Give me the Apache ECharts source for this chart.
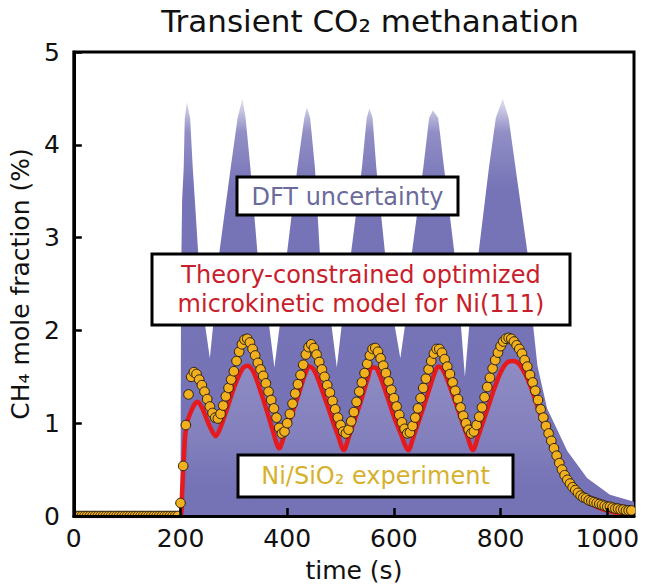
<!DOCTYPE html>
<html>
<head>
<meta charset="utf-8">
<script src="https://cdn.jsdelivr.net/npm/echarts@6/dist/echarts.min.js"></script>
<style>
  html, body { margin: 0; padding: 0; background: #fff; }
  #chart { width: 645px; height: 588px; }
</style>
</head>
<body>
<div id="chart"></div>
<script>
// Ni/SiO2 experiment, sampled every 5 s
const expTime = [
  0, 5, 10, 15, 20, 25, 30, 35, 40, 45,
  50, 55, 60, 65, 70, 75, 80, 85, 90, 95,
  100, 105, 110, 115, 120, 125, 130, 135, 140, 145,
  150, 155, 160, 165, 170, 175, 180, 185, 190, 195,
  200, 205, 210, 215, 220, 225, 230, 235, 240, 245,
  250, 255, 260, 265, 270, 275, 280, 285, 290, 295,
  300, 305, 310, 315, 320, 325, 330, 335, 340, 345,
  350, 355, 360, 365, 370, 375, 380, 385, 390, 395,
  400, 405, 410, 415, 420, 425, 430, 435, 440, 445,
  450, 455, 460, 465, 470, 475, 480, 485, 490, 495,
  500, 505, 510, 515, 520, 525, 530, 535, 540, 545,
  550, 555, 560, 565, 570, 575, 580, 585, 590, 595,
  600, 605, 610, 615, 620, 625, 630, 635, 640, 645,
  650, 655, 660, 665, 670, 675, 680, 685, 690, 695,
  700, 705, 710, 715, 720, 725, 730, 735, 740, 745,
  750, 755, 760, 765, 770, 775, 780, 785, 790, 795,
  800, 805, 810, 815, 820, 825, 830, 835, 840, 845,
  850, 855, 860, 865, 870, 875, 880, 885, 890, 895,
  900, 905, 910, 915, 920, 925, 930, 935, 940, 945,
  950, 955, 960, 965, 970, 975, 980, 985, 990, 995,
  1000, 1005, 1010, 1015, 1020, 1025, 1030, 1035, 1040, 1045
];
const expFrac = [
  0, 0, 0, 0, 0, 0, 0, 0, 0, 0,
  0, 0, 0, 0, 0, 0, 0, 0, 0, 0,
  0, 0, 0, 0, 0, 0, 0, 0, 0, 0,
  0, 0, 0, 0, 0, 0, 0, 0, 0, 0,
  0.14, 0.54, 0.98, 1.31, 1.50, 1.55, 1.53, 1.47, 1.41, 1.34,
  1.26, 1.18, 1.11, 1.06, 1.05, 1.10, 1.19, 1.29, 1.38, 1.47,
  1.56, 1.67, 1.77, 1.85, 1.90, 1.91, 1.87, 1.80, 1.73, 1.65,
  1.58, 1.51, 1.43, 1.34, 1.25, 1.16, 1.06, 0.95, 0.89, 0.91,
  1.00, 1.10, 1.21, 1.32, 1.42, 1.52, 1.63, 1.74, 1.82, 1.85,
  1.81, 1.74, 1.66, 1.58, 1.50, 1.41, 1.33, 1.24, 1.15, 1.06,
  0.98, 0.91, 0.89, 0.93, 1.02, 1.12, 1.23, 1.34, 1.44, 1.54,
  1.64, 1.73, 1.80, 1.81, 1.77, 1.70, 1.62, 1.54, 1.45, 1.36,
  1.27, 1.18, 1.09, 1.01, 0.94, 0.89, 0.90, 0.97, 1.06, 1.16,
  1.27, 1.38, 1.48, 1.58, 1.67, 1.75, 1.80, 1.80, 1.76, 1.69,
  1.61, 1.53, 1.44, 1.35, 1.26, 1.17, 1.08, 1.00, 0.93, 0.89,
  0.91, 0.98, 1.07, 1.17, 1.28, 1.39, 1.49, 1.59, 1.68, 1.76,
  1.83, 1.88, 1.91, 1.92, 1.91, 1.88, 1.84, 1.80, 1.75, 1.68,
  1.61, 1.52, 1.44, 1.35, 1.25, 1.15, 1.06, 0.97, 0.89, 0.81,
  0.73, 0.65, 0.57, 0.50, 0.44, 0.39, 0.35, 0.31, 0.28, 0.25,
  0.22, 0.20, 0.19, 0.17, 0.16, 0.15, 0.14, 0.13, 0.12, 0.11,
  0.10, 0.10, 0.09, 0.08, 0.08, 0.07, 0.07, 0.06, 0.06, 0.06
];

// optimized microkinetic model (red line)
const modelTime = [
  0, 200, 203, 206, 209, 213, 220, 226, 232, 240,
  248, 256, 266, 276, 288, 300, 310, 318, 326, 334,
  342, 352, 362, 372, 385, 395, 405, 415, 425, 433,
  441, 448, 456, 465, 475, 485, 495, 506, 516, 526,
  536, 546, 552, 558, 565, 573, 582, 592, 602, 612,
  627, 637, 647, 657, 667, 675, 683, 690, 698, 707,
  717, 727, 737, 748, 758, 768, 778, 788, 798, 806,
  814, 822, 830, 837, 846, 856, 865, 874, 884, 893,
  902, 912, 922, 934, 948, 962, 980, 999, 1020, 1042, 1050
];
const modelFrac = [
  0, 0, 0.25, 0.62, 0.88, 1.02, 1.13, 1.20, 1.23, 1.17,
  1.06, 0.95, 0.86, 0.97, 1.17, 1.38, 1.52, 1.60, 1.62, 1.58,
  1.48, 1.31, 1.13, 0.94, 0.73, 0.88, 1.04, 1.20, 1.38, 1.52,
  1.61, 1.59, 1.50, 1.36, 1.20, 1.03, 0.87, 0.71, 0.86, 1.03,
  1.20, 1.39, 1.50, 1.60, 1.60, 1.52, 1.38, 1.21, 1.04, 0.90,
  0.71, 0.86, 1.03, 1.20, 1.38, 1.52, 1.61, 1.59, 1.50, 1.36,
  1.20, 1.03, 0.87, 0.71, 0.86, 1.03, 1.20, 1.37, 1.52, 1.61,
  1.66, 1.67, 1.66, 1.62, 1.53, 1.40, 1.25, 1.10, 0.94, 0.80,
  0.65, 0.51, 0.40, 0.30, 0.22, 0.16, 0.10, 0.06, 0.03, 0.02, 0.02
];

// upper edge of the DFT uncertainty ensemble
const bandTime = [
  200, 201, 203, 206, 208, 212, 218, 223, 233, 245,
  255, 262, 273, 294, 307, 316, 322, 331, 344, 365,
  376, 387, 400, 419, 432, 437, 443, 452, 461, 482,
  493, 503, 520, 540, 549, 554, 560, 567, 583, 600,
  612, 622, 634, 655, 666, 673, 683, 694, 713, 725,
  733, 742, 759, 778, 791, 804, 815, 828, 850, 861,
  869, 887, 925, 962, 1005, 1047, 1050
];
const bandTop = [
  0, 2.5, 3.4, 3.75, 4.29, 4.46, 4.29, 3.75, 2.85, 2.1,
  1.7, 2.1, 2.85, 3.75, 4.29, 4.5, 4.29, 3.75, 2.85, 2.1,
  1.6, 2.1, 2.85, 3.75, 4.29, 4.4, 4.29, 3.75, 2.85, 2.1,
  1.6, 2.1, 2.85, 3.75, 4.29, 4.39, 4.29, 3.75, 2.85, 2.1,
  1.7, 2.1, 2.85, 3.75, 4.29, 4.37, 4.29, 3.75, 2.85, 2.1,
  1.5, 2.1, 2.85, 3.75, 4.29, 4.5, 4.29, 3.75, 2.85, 2.05,
  1.62, 1.16, 0.70, 0.41, 0.23, 0.16, 0.15
];

const FONT = '"DejaVu Sans", Verdana, sans-serif';
const zip = (a, b) => a.map((v, i) => [v, b[i]]);

const chart = echarts.init(document.getElementById('chart'), null, {renderer: 'svg'});

const modelData = zip(modelTime, modelFrac);
const option = {
  animation: false,
  backgroundColor: '#fff',
  title: {
    text: 'Transient CO₂ methanation',
    left: 365,
    top: 0,
    textAlign: 'center',
    textStyle: {fontFamily: FONT, fontSize: 31, fontWeight: 'normal', color: '#111'}
  },
  grid: {
    left: 70, right: 11, top: 52, bottom: 70,
    show: true, borderColor: '#000', borderWidth: 3, backgroundColor: 'transparent'
  },
  xAxis: {
    type: 'value',
    min: 0, max: 1050, interval: 200,
    z: 5,
    name: 'time (s)',
    nameLocation: 'middle',
    nameGap: 42,
    nameTextStyle: {fontFamily: FONT, fontSize: 25, color: '#111'},
    axisLine: {lineStyle: {color: '#000', width: 3}},
    axisTick: {inside: true, length: 8, lineStyle: {color: '#000', width: 2.5}},
    axisLabel: {fontFamily: FONT, fontSize: 25, color: '#111', margin: 10, showMaxLabel: false,
      formatter: v => String(v)},
    splitLine: {show: false}
  },
  yAxis: {
    type: 'value',
    min: 0, max: 5, interval: 1,
    z: 5,
    name: 'CH₄ mole fraction (%)',
    nameLocation: 'middle',
    nameGap: 36,
    nameTextStyle: {fontFamily: FONT, fontSize: 25, color: '#111'},
    axisLine: {lineStyle: {color: '#000', width: 3}},
    axisTick: {inside: true, length: 8, lineStyle: {color: '#000', width: 2.5}},
    axisLabel: {fontFamily: FONT, fontSize: 25, color: '#111', margin: 14},
    splitLine: {show: false}
  },
  series: [
    {
      name: 'DFT uncertainty',
      type: 'line',
      data: zip(bandTime, bandTop),
      symbol: 'none',
      lineStyle: {width: 0},
      z: 1,
      areaStyle: {
        opacity: 1,
        color: new echarts.graphic.LinearGradient(0, 0, 0, 1, [
          {offset: 0, color: 'rgba(118,115,183,0.2)'},
          {offset: 0.08, color: 'rgba(118,115,183,0.8)'},
          {offset: 0.22, color: '#7673b7'},
          {offset: 1, color: '#7572b6'}
        ])
      }
    },
    {
      name: 'ensemble core',
      type: 'line',
      data: modelData.filter(d => d[0] >= 213 && d[0] <= 912),
      symbol: 'none',
      smooth: 0.3,
      lineStyle: {width: 0},
      z: 1,
      areaStyle: {
        origin: 0.3,
        color: new echarts.graphic.LinearGradient(0, 0, 0, 1, [
          {offset: 0, color: 'rgba(255,255,255,0.26)'},
          {offset: 0.6, color: 'rgba(255,255,255,0.14)'},
          {offset: 1, color: 'rgba(255,255,255,0)'}
        ])
      }
    },
    {
      name: 'model',
      type: 'line',
      data: modelData,
      symbol: 'none',
      smooth: 0.3,
      z: 3,
      lineStyle: {color: '#e6191c', width: 4.5}
    },
    {
      name: 'Ni/SiO₂ experiment',
      type: 'custom',
      data: zip(expTime, expFrac),
      encode: {x: 0, y: 1},
      clip: true,
      z: 4,
      renderItem: function (params, api) {
        const p = api.coord([api.value(0), api.value(1)]);
        return {
          type: 'circle',
          shape: {cx: p[0], cy: p[1], r: 4.8},
          style: {fill: '#f2b01e', stroke: '#2a2110', lineWidth: 1}
        };
      }
    }
  ],
  graphic: [
    {type: 'rect', z: 100, shape: {x: 237, y: 177, width: 221, height: 38},
      style: {fill: '#fff', stroke: '#000', lineWidth: 3}},
    {type: 'text', z: 101, x: 347.5, y: 197,
      style: {text: 'DFT uncertainty', font: '24px ' + FONT, fill: '#6a6a9c', align: 'center', verticalAlign: 'middle'}},
    {type: 'rect', z: 100, shape: {x: 152, y: 254, width: 418, height: 71},
      style: {fill: '#fff', stroke: '#000', lineWidth: 3}},
    {type: 'text', z: 101, x: 361, y: 289,
      style: {text: 'Theory-constrained optimized\nmicrokinetic model for Ni(111)', font: '24px ' + FONT,
        fill: '#c8202a', align: 'center', verticalAlign: 'middle', lineHeight: 29}},
    {type: 'rect', z: 100, shape: {x: 238, y: 455, width: 275, height: 42},
      style: {fill: '#fff', stroke: '#000', lineWidth: 3}},
    {type: 'text', z: 101, x: 375.5, y: 476,
      style: {text: 'Ni/SiO₂ experiment', font: '24px ' + FONT, fill: '#d6b12e', align: 'center', verticalAlign: 'middle'}}
  ]
};

chart.setOption(option);
</script>
</body>
</html>
